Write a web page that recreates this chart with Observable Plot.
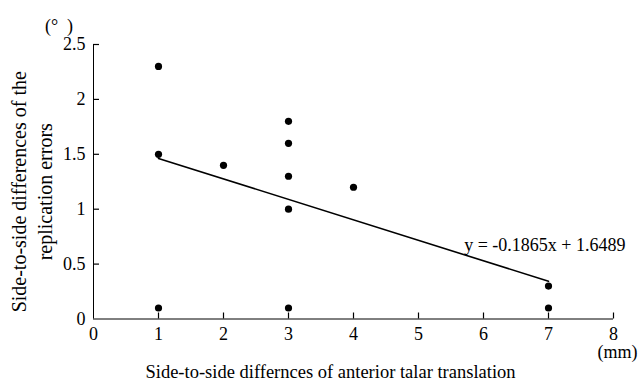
<!DOCTYPE html>
<html>
<head>
<meta charset="utf-8">
<script src="https://cdn.jsdelivr.net/npm/d3@7"></script>
<script src="https://cdn.jsdelivr.net/npm/@observablehq/plot@0.6"></script>
<style>
  html, body { margin: 0; padding: 0; background: #fff; }
  svg { display: block; }
</style>
</head>
<body>
<div id="chart"></div>
<script>
const xValues = [1, 1, 1, 2, 3, 3, 3, 3, 3, 4, 7, 7];
const yValues = [2.3, 1.5, 0.1, 1.4, 1.8, 1.6, 1.3, 1.0, 0.1, 1.2, 0.3, 0.1];
const xTicks = [0, 1, 2, 3, 4, 5, 6, 7, 8];
const yTicks = [0, 0.5, 1, 1.5, 2, 2.5];
const slope = -0.1865;
const intercept = 1.6489;
const fitRange = [1, 7];
const equationLabel = "y = -0.1865x + 1.6489";
const xTitle = "Side-to-side differnces of anterior talar translation";
const yTitleLines = ["Side-to-side differences of the", "replication errors"];
const xUnit = "(mm)";
const yUnit = "(°\u00a0\u00a0)";

const points = xValues.map((x, i) => ({x, y: yValues[i]}));
const fit = fitRange.map(x => ({x, y: intercept + slope * x}));

const font = "'Liberation Serif', 'Times New Roman', serif";
const fs = 18;

const W = 640, H = 387, mL = 93, mR = 27, mT = 44, mB = 68.5;
const xDomain = [0, 8], yDomain = [0, 2.5];
const tickPx = 6;
// tick length converted from pixels into data units
const xTickLen = tickPx * (yDomain[1] - yDomain[0]) / (H - mT - mB);
const yTickLen = tickPx * (xDomain[1] - xDomain[0]) / (W - mL - mR);

const chart = Plot.plot({
  width: W,
  height: H,
  marginLeft: mL,
  marginRight: mR,
  marginTop: mT,
  marginBottom: mB,
  style: {fontFamily: font, fontSize: fs + "px", color: "#000", background: "#fff"},
  x: {domain: xDomain, axis: null},
  y: {domain: yDomain, axis: null},
  marks: [
    Plot.ruleY([0], {stroke: "#000", strokeWidth: 1}),
    Plot.ruleX([0], {stroke: "#000", strokeWidth: 1}),
    Plot.ruleX(xTicks.slice(1), {x: d => d, y1: 0, y2: xTickLen, stroke: "#000", strokeWidth: 1.2}),
    Plot.ruleY(yTicks.slice(1), {y: d => d, x1: 0, x2: yTickLen, stroke: "#000", strokeWidth: 1.2}),
    Plot.text(xTicks, {x: d => d, y: 0, dy: 15, text: d => String(d), fontSize: fs}),
    Plot.text(yTicks, {x: 0, y: d => d, dx: -8, textAnchor: "end", text: d => String(d), fontSize: fs}),
    Plot.line(fit, {x: "x", y: "y", stroke: "#000", strokeWidth: 1.6}),
    Plot.dot(points, {x: "x", y: "y", r: 3.6, fill: "#000", stroke: null}),
    Plot.text([equationLabel], {frameAnchor: "top-right", dx: 12, dy: 194, textAnchor: "end", text: d => d, fontSize: fs}),
    Plot.text([xTitle], {frameAnchor: "bottom", dx: -23, dy: 58.5, textAnchor: "middle", text: d => d, fontSize: 18.5}),
    Plot.text([xUnit], {frameAnchor: "bottom-right", dx: 4, dy: 39, textAnchor: "middle", text: d => d, fontSize: fs}),
    Plot.text([yUnit], {frameAnchor: "top-left", dx: -34.5, dy: -25.5, textAnchor: "middle", text: d => d, fontSize: fs}),
    Plot.text([yTitleLines[0]], {frameAnchor: "left", dx: -74, dy: 10, rotate: -90, textAnchor: "middle", text: d => d, fontSize: 20}),
    Plot.text([yTitleLines[1]], {frameAnchor: "left", dx: -48, dy: 10, rotate: -90, textAnchor: "middle", text: d => d, fontSize: 20})
  ]
});
document.getElementById("chart").appendChild(chart);
</script>
</body>
</html>
